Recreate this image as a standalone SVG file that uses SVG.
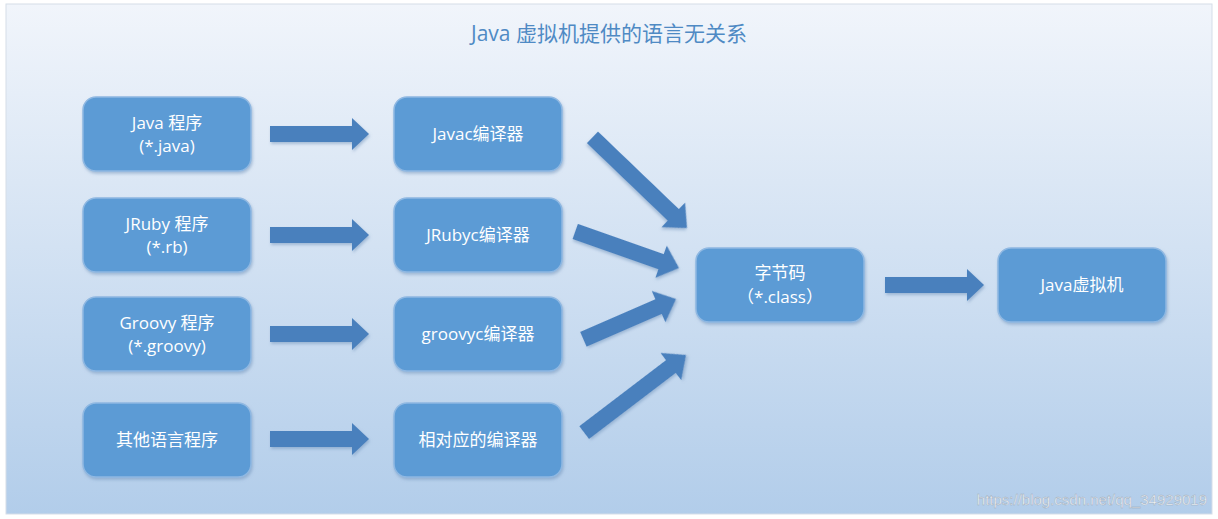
<svg xmlns="http://www.w3.org/2000/svg" width="1218" height="519" viewBox="0 0 1218 519">
<defs>
<linearGradient id="bg" x1="0" y1="0" x2="0" y2="1">
<stop offset="0" stop-color="#f1f5fb"/>
<stop offset="1" stop-color="#b2cdea"/>
</linearGradient>
<filter id="sh" x="-10%" y="-10%" width="130%" height="140%"><feDropShadow dx="1" dy="2" stdDeviation="1.5" flood-color="#6b8fb8" flood-opacity="0.5"/></filter>
</defs>
<style>
.box{fill:#5b9bd5;stroke:#8fb8e2;stroke-width:1.5;filter:url(#sh)}
.t{font-family:"Open Sans","Noto Sans CJK SC",sans-serif;font-size:17px;fill:#fff;text-anchor:middle}
.arr{fill:#4a80bd;filter:url(#sh)}
</style>
<rect x="0" y="0" width="1218" height="519" fill="#fff"/>
<rect x="6" y="4" width="1206" height="510" fill="url(#bg)" stroke="#d5dde8"/>
<text x="609" y="41" font-family="'Open Sans','Noto Sans CJK SC',sans-serif" font-size="21" fill="#4f8ac4" text-anchor="middle">Java 虚拟机提供的语言无关系</text>

<g id="n1"><rect class="box" x="83" y="97" width="168" height="74" rx="13"/><text class="t" x="167" y="129">Java 程序</text><text class="t" x="167" y="152">(*.java)</text></g>
<g id="n2"><rect class="box" x="83" y="198" width="168" height="74" rx="13"/><text class="t" x="167" y="230">JRuby 程序</text><text class="t" x="167" y="253">(*.rb)</text></g>
<g id="n3"><rect class="box" x="83" y="297" width="168" height="74" rx="13"/><text class="t" x="167" y="329">Groovy 程序</text><text class="t" x="167" y="352">(*.groovy)</text></g>
<g id="n4"><rect class="box" x="83" y="403" width="168" height="74" rx="13"/><text class="t" x="167" y="446">其他语言程序</text></g>
<g id="c1"><rect class="box" x="394" y="97" width="168" height="74" rx="13"/><text class="t" x="478" y="140">Javac编译器</text></g>
<g id="c2"><rect class="box" x="394" y="198" width="168" height="74" rx="13"/><text class="t" x="478" y="241">JRubyc编译器</text></g>
<g id="c3"><rect class="box" x="394" y="297" width="168" height="74" rx="13"/><text class="t" x="478" y="340">groovyc编译器</text></g>
<g id="c4"><rect class="box" x="394" y="403" width="168" height="74" rx="13"/><text class="t" x="478" y="446">相对应的编译器</text></g>
<g id="bc"><rect class="box" x="696" y="248" width="168" height="74" rx="13"/><text class="t" x="780" y="279">字节码</text><text class="t" x="780" y="303">（*.class）</text></g>
<g id="jvm"><rect class="box" x="998" y="248" width="168" height="74" rx="13"/><text class="t" x="1082" y="291">Java虚拟机</text></g>

<g id="connectors">
<polygon class="arr" points="0,-8 -16,-8 -16,-16 0,0 -16,16 -16,8 0,8" transform="translate(0,0)" visibility="hidden"/>
<polygon class="arr" points="270,126 352,126 352,118 369,134 352,150 352,142 270,142"/>
<polygon class="arr" points="270,227 352,227 352,219 369,235 352,251 352,243 270,243"/>
<polygon class="arr" points="270,326 352,326 352,318 369,334 352,350 352,342 270,342"/>
<polygon class="arr" points="270,431 352,431 352,423 369,439 352,455 352,447 270,447"/>
<polygon class="arr" points="885,277 967,277 967,269 984,285 967,301 967,293 885,293"/>
<polygon class="arr" points="0,-8 -19,-8 -19,-17 0,0 -19,17 -19,8 -131,8 -131,-8" transform="translate(687,228) rotate(43.8)"/>
<polygon class="arr" points="0,-8 -19,-8 -19,-17 0,0 -19,17 -19,8 -110,8 -110,-8" transform="translate(679,268) rotate(19.4)"/>
<polygon class="arr" points="0,-8 -19,-8 -19,-17 0,0 -19,17 -19,8 -101,8 -101,-8" transform="translate(676,299) rotate(-23.5)"/>
<polygon class="arr" points="0,-8 -19,-8 -19,-17 0,0 -19,17 -19,8 -128,8 -128,-8" transform="translate(686,355) rotate(-37.3)"/>
</g>
<text x="1207" y="505" font-family="'Liberation Sans',sans-serif" font-size="15" fill="#ffffff" fill-opacity="0.85" stroke="#9aa7b5" stroke-width="0.4" text-anchor="end">https://blog.csdn.net/qq_34929019</text>
</svg>
